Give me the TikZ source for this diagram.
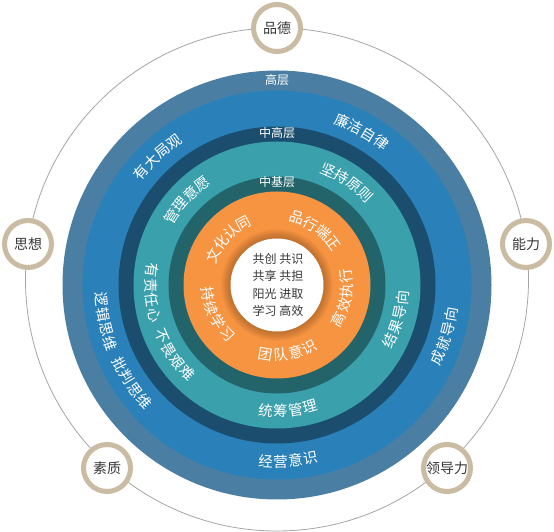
\documentclass[tikz,border=0pt]{standalone}
\usepackage{fontspec}
\setmainfont{Noto Sans CJK SC}
\definecolor{steelring}{RGB}{74,127,163}
\definecolor{bluering}{RGB}{42,128,185}
\definecolor{navyring}{RGB}{27,78,110}
\definecolor{tealring}{RGB}{58,160,172}
\definecolor{darkteal}{RGB}{35,100,106}
\definecolor{orangering}{RGB}{246,148,66}
\definecolor{tanring}{RGB}{202,188,163}
\definecolor{thingray}{RGB}{165,165,165}
\definecolor{labelgray}{RGB}{55,55,55}
\tikzset{
  badge/.style={circle, draw=tanring, line width=5pt, fill=white, minimum size=47pt, inner sep=0pt,
    font=\fontsize{14}{14}\selectfont, text=labelgray},
  levellabel/.style={font=\fontsize{12}{12}\selectfont, text=white},
  centertext/.style={align=center, font=\fontsize{12}{17.5}\selectfont, text=labelgray},
  ringchar/.style={inner sep=0pt, anchor=center, font=\fontsize{14.5}{14.5}\selectfont, text=white},
}
% #1 centre angle, #2 radius, #3 direction (-1 top / +1 bottom), #4 last position, #5 list char/position
\newcommand\arcchars[5]{%
  \pgfmathsetmacro\arcstep{15/#2*57.2958}%
  \foreach \ch/\p in {#5} {%
    \pgfmathsetmacro\arcang{#1+(#3)*(\p-#4/2)*\arcstep}%
    \pgfmathsetmacro\arcrot{\arcang+(#3)*90}%
    \node[ringchar, rotate=\arcrot] at ([shift={(C)}]\arcang:#2) {\ch};
  }}
\begin{document}
\begin{tikzpicture}[x=1pt,y=1pt]
\useasboundingbox (0,0) rectangle (554,532);
\coordinate (C) at (277,247);
\coordinate (O) at (277,252.5);
% outer thin circle
\draw[thingray, line width=0.8pt] (O) circle[radius=251.5];
% rings
\fill[steelring] (C) circle[radius=214.5];
\fill[bluering] (C) circle[radius=194.5];
\fill[navyring] (C) circle[radius=158.5];
\fill[tealring] (C) circle[radius=143.5];
\fill[darkteal] (C) circle[radius=108.5];
\fill[orangering] (C) circle[radius=93.5];
\foreach \i in {1,...,10} {\fill[black, opacity=0.022] (C) circle[radius=46+\i];}
\fill[white] (C) circle[radius=46.5];
% badges
\node[badge] (pinde) at (277,504) {品德};
\node[badge] (sixiang) at (28,288) {思想};
\node[badge] (nengli) at (526,288) {能力};
\node[badge] (suzhi) at (107,64) {素质};
\node[badge] (lingdao) at (447,64) {领导力};
% level labels
\node[levellabel] (gaoceng) at (277,452) {高层};
\node[levellabel] (zhonggao) at (277,399) {中高层};
\node[levellabel] (zhongji) at (277,350) {中基层};
% centre
\node[centertext] (core) at (278,247) {共创 共识\\共享 共担\\阳光 进取\\学习 高效};
% blue ring texts
\arcchars{133}{176.5}{-1}{3}{有/0,大/1,局/2,观/3}
\arcchars{61}{176.5}{-1}{3}{廉/0,洁/1,自/2,律/3}
\arcchars{203}{176.5}{1}{7.5}{逻/0,辑/1,思/2,维/3,批/4.5,判/5.5,思/6.5,维/7.5}
\arcchars{-17}{176.5}{1}{3}{成/0,就/1,导/2,向/3}
\arcchars{-86.4}{176.5}{1}{3}{经/0,营/1,意/2,识/3}
% teal ring texts
\arcchars{136.7}{126}{-1}{3}{管/0,理/1,意/2,愿/3}
\arcchars{55.8}{126}{-1}{3}{坚/0,持/1,原/2,则/3}
\arcchars{198.9}{126}{1}{7.5}{有/0,责/1,任/2,心/3,不/4.5,畏/5.5,艰/6.5,难/7.5}
\arcchars{-15.9}{126}{1}{3}{结/0,果/1,导/2,向/3}
\arcchars{-85}{126}{1}{3}{统/0,筹/1,管/2,理/3}
% orange ring texts
\arcchars{136.7}{70}{-1}{3}{文/0,化/1,认/2,同/3}
\arcchars{54.9}{70}{-1}{3}{品/0,行/1,端/2,正/3}
\arcchars{205.8}{70}{1}{3}{持/0,续/1,学/2,习/3}
\arcchars{-10.8}{70}{1}{3}{高/0,效/1,执/2,行/3}
\arcchars{-80.8}{70}{1}{3}{团/0,队/1,意/2,识/3}
\end{tikzpicture}
\end{document}
